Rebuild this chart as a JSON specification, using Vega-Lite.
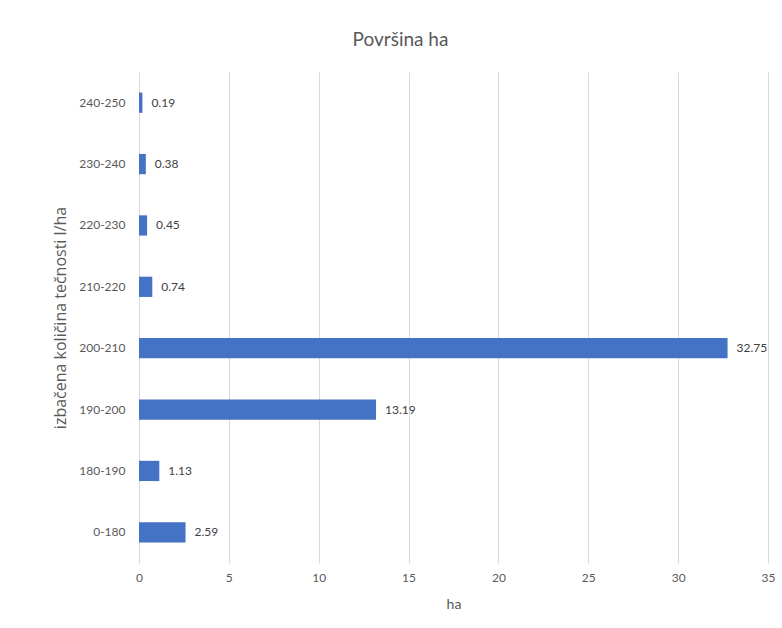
{
  "$schema": "https://vega.github.io/schema/vega-lite/v6.json",
  "width": 629,
  "height": 491,
  "autosize": {"type": "none"},
  "padding": {"left": 139, "top": 72, "right": 14, "bottom": 65},
  "background": "white",
  "title": {
    "text": "Površina ha",
    "font": "Lato",
    "fontSize": 19,
    "fontWeight": "normal",
    "color": "#595959",
    "anchor": "middle",
    "dx": -53,
    "offset": 22
  },
  "data": {
    "values": [
      {"range": "240-250", "ha": 0.19},
      {"range": "230-240", "ha": 0.38},
      {"range": "220-230", "ha": 0.45},
      {"range": "210-220", "ha": 0.74},
      {"range": "200-210", "ha": 32.75},
      {"range": "190-200", "ha": 13.19},
      {"range": "180-190", "ha": 1.13},
      {"range": "0-180", "ha": 2.59}
    ]
  },
  "encoding": {
    "y": {
      "field": "range",
      "type": "nominal",
      "sort": null,
      "scale": {"paddingInner": 0.67, "paddingOuter": 0.335},
      "axis": {
        "title": "izbačena količina tečnosti l/ha",
        "titleFont": "Open Sans",
        "titleFontSize": 16,
        "titleFontWeight": "normal",
        "titleColor": "#595959",
        "titlePadding": 10,
        "labelFont": "Lato",
        "labelFontSize": 12,
        "labelColor": "#595959",
        "labelPadding": 14,
        "ticks": false,
        "domainColor": "#d9d9d9",
        "grid": false
      }
    },
    "x": {
      "field": "ha",
      "type": "quantitative",
      "scale": {"domain": [0, 35], "nice": false},
      "axis": {
        "title": "ha",
        "values": [0, 5, 10, 15, 20, 25, 30, 35],
        "labelFlush": false,
        "titleFont": "Lato",
        "titleFontSize": 14,
        "titleFontWeight": "normal",
        "titleColor": "#595959",
        "titlePadding": 14,
        "labelFont": "Lato",
        "labelFontSize": 12,
        "labelColor": "#595959",
        "labelPadding": 9,
        "ticks": false,
        "domain": false,
        "grid": true,
        "gridColor": "#d9d9d9",
        "gridWidth": 1
      }
    }
  },
  "layer": [
    {"mark": {"type": "bar", "color": "#4472C4"}},
    {
      "mark": {"type": "text", "align": "left", "dx": 9, "font": "Lato", "fontSize": 12, "color": "#404040"},
      "encoding": {"text": {"field": "ha", "type": "quantitative", "format": ".2f"}}
    }
  ],
  "config": {"view": {"stroke": null}}
}
